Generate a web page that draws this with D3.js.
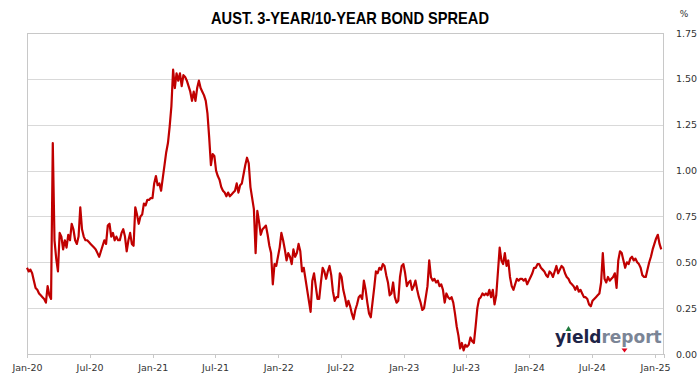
<!DOCTYPE html>
<html>
<head>
<meta charset="utf-8">
<script src="https://cdn.jsdelivr.net/npm/d3@7"></script>
<style>
  html, body { margin: 0; padding: 0; background: #ffffff; }
  svg { display: block; }
</style>
</head>
<body>
<div id="chart"></div>
<script>
// ---- DATA (Aust. 3yr/10yr bond spread, %, read every 5 calendar days) ----
const seriesStart = "2020-01-01";
const stepDays = 5;
const spread2020 = [0.47,0.45,0.46,0.44,0.40,0.36,0.35,0.33,0.32,0.31,
  0.30,0.28,0.37,0.32,0.30,1.15,0.62,0.52,0.45,0.66,
  0.64,0.57,0.62,0.58,0.65,0.62,0.71,0.68,0.62,0.60,
  0.64,0.80,0.68,0.64,0.62,0.62,0.61,0.60,0.59,0.58,
  0.57,0.55,0.53,0.56,0.59,0.62,0.60,0.70,0.71,0.64,
  0.66,0.62,0.64,0.62,0.62,0.66,0.68,0.64,0.56,0.62,
  0.66,0.60,0.59,0.80,0.76,0.71,0.75,0.76,0.82,0.81,
  0.84,0.84,0.85,0.85];
const spread2021 = [0.93,0.97,0.92,0.93,0.89,0.96,
  1.03,1.10,1.15,1.24,1.35,1.55,1.45,1.53,1.49,1.53,
  1.46,1.52,1.51,1.49,1.46,1.43,1.38,1.43,1.38,1.45,
  1.49,1.45,1.43,1.41,1.38,1.31,1.18,1.03,1.09,1.08,
  1.00,0.97,0.95,0.91,0.89,0.88,0.86,0.88,0.86,0.87,
  0.88,0.89,0.93,0.88,0.92,0.93,0.98,1.03,1.07,1.04,
  0.91,0.85,0.79,0.55,0.78,0.72,0.65,0.68,0.69,0.70,
  0.65,0.59,0.55,0.38,0.49,0.48,0.53];
const spread2022 = [0.58,0.66,0.62,
  0.57,0.51,0.55,0.53,0.49,0.57,0.53,0.55,0.60,0.56,
  0.45,0.47,0.41,0.35,0.29,0.23,0.40,0.44,0.37,0.30,
  0.30,0.39,0.47,0.45,0.41,0.45,0.48,0.43,0.34,0.29,
  0.31,0.31,0.44,0.42,0.35,0.31,0.26,0.29,0.26,0.22,
  0.19,0.24,0.27,0.31,0.32,0.30,0.40,0.35,0.28,0.22,
  0.20,0.28,0.36,0.45,0.44,0.47,0.46,0.49,0.48,0.43,
  0.39,0.32,0.33,0.39,0.31,0.28,0.29,0.42,0.48,0.49];
const spread2023 = [0.44,0.37,0.39,0.40,0.35,0.37,0.40,0.35,0.31,0.28,
  0.24,0.25,0.31,0.37,0.51,0.42,0.40,0.41,0.39,0.40,
  0.37,0.38,0.35,0.28,0.33,0.31,0.30,0.31,0.28,0.22,
  0.15,0.10,0.03,0.06,0.02,0.05,0.04,0.05,0.09,0.07,
  0.06,0.15,0.25,0.30,0.31,0.33,0.32,0.33,0.32,0.35,
  0.31,0.35,0.27,0.32,0.45,0.58,0.51,0.49,0.55,0.48,
  0.51,0.42,0.37,0.35,0.38,0.41,0.40,0.41,0.41,0.40,
  0.41,0.38,0.40];
const spread2024 = [0.42,0.44,0.47,0.47,0.49,0.49,0.47,
  0.46,0.45,0.43,0.42,0.45,0.44,0.42,0.45,0.48,0.44,
  0.46,0.48,0.47,0.44,0.42,0.41,0.39,0.38,0.37,0.35,
  0.37,0.34,0.35,0.33,0.31,0.31,0.30,0.27,0.26,0.29,
  0.30,0.31,0.32,0.33,0.39,0.55,0.41,0.39,0.42,0.40,
  0.41,0.42,0.44,0.36,0.51,0.56,0.55,0.51,0.47,0.50,
  0.49,0.52,0.53,0.51,0.52,0.50,0.49,0.47,0.43,0.42,
  0.42,0.46,0.50,0.53,0.57,0.60];
const spread2025 = [0.63,0.65,0.60,0.57];

const xTickDates = ["2020-01-01","2020-07-01","2021-01-01","2021-07-01","2022-01-01",
  "2022-07-01","2023-01-01","2023-07-01","2024-01-01","2024-07-01","2025-01-01"];
const xTickLabels = ["Jan-20","Jul-20","Jan-21","Jul-21","Jan-22","Jul-22",
  "Jan-23","Jul-23","Jan-24","Jul-24","Jan-25"];
const yTicks = [0, 0.25, 0.5, 0.75, 1.0, 1.25, 1.5, 1.75];
const xDomain = ["2020-01-01", "2025-01-27"];

const title = "AUST. 3-YEAR/10-YEAR BOND SPREAD";
const unitLabel = "%";

// ---- BUILD ----
const spread = [].concat(spread2020, spread2021, spread2022, spread2023, spread2024, spread2025);
const parse = d3.utcParse("%Y-%m-%d");
const t0 = parse(seriesStart);
const data = spread.map((v, i) => ({ date: d3.utcDay.offset(t0, i * stepDays), value: v }));

const W = 699, H = 385;
const plot = { left: 27, right: 664, top: 33, bottom: 354 };

const svg = d3.select("#chart").append("svg")
  .attr("width", W).attr("height", H)
  .style("font-family", "'Liberation Sans', Arial, sans-serif");

svg.append("rect").attr("width", W).attr("height", H).attr("fill", "#ffffff");

const x = d3.scaleUtc().domain(xDomain.map(parse)).range([plot.left, plot.right]);
const y = d3.scaleLinear().domain([0, 1.75]).range([plot.bottom, plot.top]);

// gridlines
const grid = svg.append("g").attr("class", "grid")
  .attr("transform", `translate(${plot.left},0)`)
  .call(d3.axisLeft(y).tickValues(yTicks).tickSize(-(plot.right - plot.left)).tickFormat(""));
grid.select(".domain").remove();
grid.selectAll("line").attr("stroke", "#d9d9d9").attr("stroke-width", 1)
  .attr("shape-rendering", "crispEdges");

// plot border
svg.append("rect")
  .attr("x", plot.left + 0.5).attr("y", plot.top + 0.5)
  .attr("width", plot.right - plot.left - 1).attr("height", plot.bottom - plot.top)
  .attr("fill", "none").attr("stroke", "#c8c8c8").attr("stroke-width", 1)
  .attr("shape-rendering", "crispEdges");

// x axis
const xAxis = svg.append("g")
  .attr("transform", `translate(0,${plot.bottom})`)
  .call(d3.axisBottom(x)
    .tickValues(xTickDates.map(parse))
    .tickFormat((d, i) => xTickLabels[i])
    .tickSize(4).tickPadding(6));
xAxis.select(".domain").attr("stroke", "#c8c8c8").attr("shape-rendering", "crispEdges");
xAxis.selectAll(".tick line").attr("stroke", "#c8c8c8").attr("shape-rendering", "crispEdges");
xAxis.selectAll(".tick text").attr("fill", "#333333")
  .style("font-family", "'DejaVu Sans', sans-serif").attr("dy", "0.71em")
  .style("font-size", "9.5px");

// y axis (right)
const yAxis = svg.append("g")
  .attr("transform", `translate(${plot.right},0)`)
  .call(d3.axisRight(y).tickValues(yTicks).tickFormat(d3.format(".2f")).tickSize(0).tickPadding(12));
yAxis.select(".domain").remove();
yAxis.selectAll(".tick text").attr("fill", "#333333")
  .style("font-family", "'DejaVu Sans', sans-serif").style("font-size", "9.5px");

svg.append("text").attr("x", 684).attr("y", 17).attr("text-anchor", "middle")
  .attr("fill", "#333333").style("font-family", "'DejaVu Sans', sans-serif")
  .style("font-size", "9px").text(unitLabel);

// line
const line = d3.line().x(d => x(d.date)).y(d => y(d.value));
svg.append("path").datum(data)
  .attr("d", line)
  .attr("fill", "none").attr("stroke", "#c00000").attr("stroke-width", 2.2)
  .attr("stroke-linejoin", "round");

// title
svg.append("text").attr("x", 350).attr("y", 24).attr("text-anchor", "middle")
  .style("font-family", "'Liberation Sans', Arial, sans-serif")
  .style("font-weight", "bold").style("font-size", "17px").attr("fill", "#000000")
  .attr("textLength", 278).attr("lengthAdjust", "spacingAndGlyphs")
  .text(title);

// logo
const logo = svg.append("text").attr("x", 555).attr("y", 343)
  .style("font-family", "'DejaVu Sans', sans-serif").style("font-weight", "bold")
  .style("font-size", "17px");
logo.append("tspan").attr("fill", "#1d2447").text("y\u0131eld");
logo.append("tspan").attr("fill", "#7b8596").text("report");
svg.append("path").attr("d", "M565.5,331 L568.5,326 L571.5,331 Z").attr("fill", "#1e7a3c");
svg.append("path").attr("d", "M621.5,348.5 L627.5,348.5 L624.5,352.5 Z").attr("fill", "#e0001b");
</script>
</body>
</html>
